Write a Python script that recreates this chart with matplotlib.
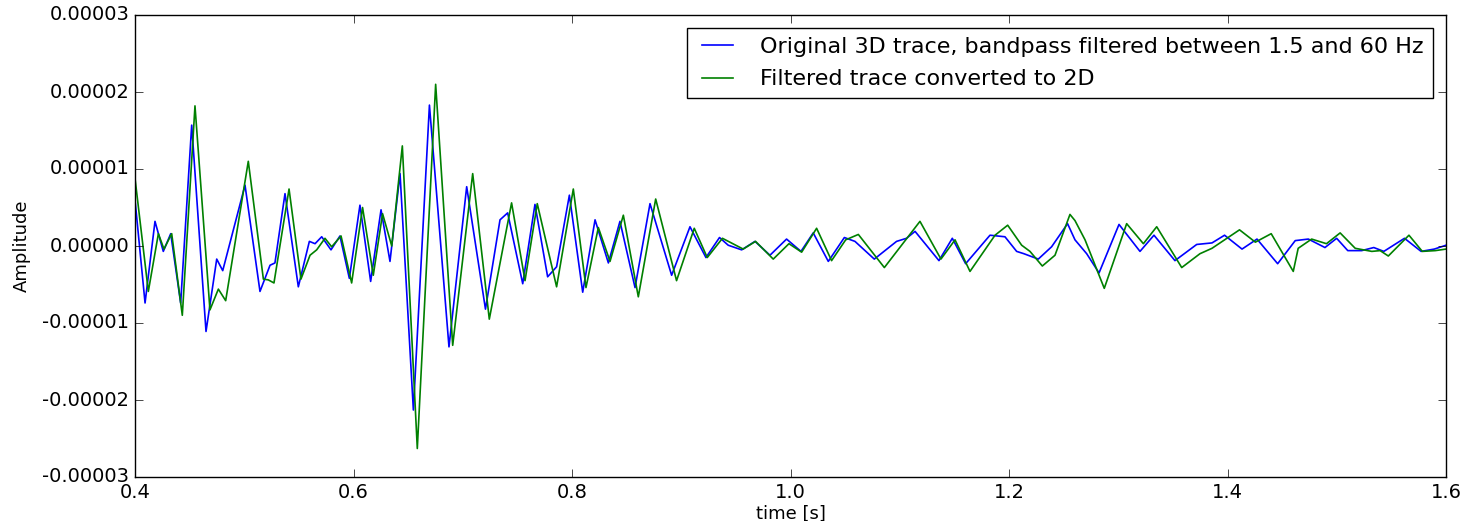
import matplotlib
matplotlib.use("Agg")
import matplotlib.pyplot as plt
from matplotlib.ticker import FormatStrFormatter

# Time samples (s) and amplitudes (in units of 1e-5)
t_orig = [0.4000, 0.4092, 0.4183, 0.4259, 0.4327, 0.4418, 0.4519, 0.4650, 0.4748, 0.4803,
          0.5007, 0.5144, 0.5236, 0.5281, 0.5373, 0.5495, 0.5596, 0.5648, 0.5709, 0.5794,
          0.5876, 0.5962, 0.6059, 0.6157, 0.6252, 0.6334, 0.6426, 0.6548, 0.6695, 0.6874,
          0.7036, 0.7208, 0.7341, 0.7411, 0.7549, 0.7661, 0.7777, 0.7859, 0.7976, 0.8098,
          0.8211, 0.8333, 0.8439, 0.8577, 0.8714, 0.8912, 0.9080, 0.9226, 0.9350, 0.9430,
          0.9553, 0.9675, 0.9812, 0.9964, 1.0096, 1.0208, 1.0346, 1.0493, 1.0590, 1.0767,
          1.0971, 1.1062, 1.1140, 1.1359, 1.1481, 1.1603, 1.1826, 1.1963, 1.2070, 1.2136,
          1.2268, 1.2390, 1.2536, 1.2604, 1.2711, 1.2824, 1.3007, 1.3199, 1.3327, 1.3519,
          1.3718, 1.3858, 1.3973, 1.4133, 1.4270, 1.4459, 1.4620, 1.4740, 1.4892, 1.4999,
          1.5101, 1.5228, 1.5339, 1.5431, 1.5620, 1.5772, 1.5893, 1.6000]
a_orig = [0.60, -0.74, 0.32, -0.07, 0.16, -0.74, 1.57, -1.11, -0.17, -0.32,
          0.79, -0.59, -0.25, -0.22, 0.68, -0.53, 0.06, 0.03, 0.12, -0.05,
          0.13, -0.42, 0.53, -0.46, 0.47, -0.20, 0.94, -2.13, 1.83, -1.31,
          0.77, -0.82, 0.34, 0.43, -0.49, 0.54, -0.40, -0.27, 0.66, -0.60,
          0.34, -0.22, 0.32, -0.54, 0.55, -0.38, 0.25, -0.15, 0.11, 0.01,
          -0.05, 0.06, -0.12, 0.09, -0.07, 0.17, -0.20, 0.11, 0.06, -0.17,
          0.06, 0.10, 0.19, -0.19, 0.10, -0.23, 0.14, 0.12, -0.07, -0.10,
          -0.17, -0.01, 0.29, 0.08, -0.10, -0.35, 0.28, -0.07, 0.14, -0.19,
          0.02, 0.04, 0.14, -0.04, 0.09, -0.23, 0.07, 0.09, -0.02, 0.10,
          -0.06, -0.06, -0.02, -0.07, 0.10, -0.07, -0.04, 0.01]

t_2d = [0.4000, 0.4122, 0.4214, 0.4265, 0.4336, 0.4433, 0.4549, 0.4686, 0.4763, 0.4830,
        0.5037, 0.5175, 0.5220, 0.5272, 0.5410, 0.5519, 0.5602, 0.5663, 0.5739, 0.5800,
        0.5886, 0.5983, 0.6083, 0.6181, 0.6266, 0.6350, 0.6447, 0.6584, 0.6752, 0.6908,
        0.7091, 0.7243, 0.7447, 0.7570, 0.7682, 0.7859, 0.8012, 0.8128, 0.8241, 0.8348,
        0.8470, 0.8607, 0.8766, 0.8957, 0.9119, 0.9238, 0.9377, 0.9567, 0.9680, 0.9842,
        0.9986, 1.0102, 1.0239, 1.0376, 1.0505, 1.0621, 1.0859, 1.1185, 1.1377, 1.1506,
        1.1643, 1.1872, 1.1988, 1.2116, 1.2192, 1.2305, 1.2421, 1.2558, 1.2604, 1.2696,
        1.2872, 1.3077, 1.3230, 1.3352, 1.3581, 1.3748, 1.3858, 1.4110, 1.4255, 1.4400,
        1.4602, 1.4647, 1.4770, 1.4906, 1.5031, 1.5169, 1.5321, 1.5397, 1.5472, 1.5661,
        1.5783, 1.5902, 1.6000]
a_2d = [0.88, -0.59, 0.16, -0.04, 0.16, -0.90, 1.82, -0.83, -0.56, -0.71,
        1.10, -0.43, -0.44, -0.48, 0.74, -0.43, -0.12, -0.05, 0.10, -0.01,
        0.13, -0.48, 0.50, -0.38, 0.42, 0.00, 1.30, -2.63, 2.10, -1.29,
        0.94, -0.95, 0.56, -0.45, 0.55, -0.53, 0.74, -0.54, 0.24, -0.20,
        0.40, -0.66, 0.61, -0.45, 0.23, -0.15, 0.10, -0.04, 0.06, -0.17,
        0.03, -0.08, 0.23, -0.19, 0.08, 0.15, -0.28, 0.32, -0.17, 0.08,
        -0.33, 0.14, 0.27, 0.01, -0.07, -0.26, -0.12, 0.41, 0.33, 0.08,
        -0.55, 0.29, 0.03, 0.25, -0.28, -0.10, -0.03, 0.21, 0.05, 0.16,
        -0.33, -0.03, 0.09, 0.03, 0.17, -0.03, -0.07, -0.06, -0.13, 0.14,
        -0.07, -0.06, -0.04]

SCALE = 1e-5
labels = ["Original 3D trace, bandpass filtered between 1.5 and 60 Hz",
          "Filtered trace converted to 2D"]
x_ticks = [0.4, 0.6, 0.8, 1.0, 1.2, 1.4, 1.6]
y_ticks = [-0.00003, -0.00002, -0.00001, 0.0, 0.00001, 0.00002, 0.00003]

plt.style.use("classic")
plt.rcParams["font.family"] = ["DejaVu Sans"]

fig = plt.figure(figsize=(14.64, 5.21), dpi=100, facecolor="white")
ax = fig.add_axes([135/1464, 1 - 477/521, (1446-135)/1464, (477-15)/521])

ax.plot(t_orig, [v * SCALE for v in a_orig], color="#0000ff", lw=1.2,
        solid_joinstyle="round", label=labels[0])
ax.plot(t_2d, [v * SCALE for v in a_2d], color="#008000", lw=1.2,
        solid_joinstyle="round", label=labels[1])

ax.set_xlim(0.4, 1.6)
ax.set_ylim(-0.00003, 0.00003)
ax.set_xticks(x_ticks)
ax.set_yticks(y_ticks)
ax.yaxis.set_major_formatter(FormatStrFormatter("%.5f"))
ax.xaxis.set_major_formatter(FormatStrFormatter("%.1f"))
ax.tick_params(labelsize=14, direction="in", top=True, right=True, length=6)
ax.set_xlabel("time [s]", fontsize=13, labelpad=2)
ax.set_ylabel("Amplitude", fontsize=13, labelpad=8)

leg = ax.legend(loc="upper right", fontsize=16, frameon=True, fancybox=False,
                numpoints=2, handlelength=2.0, handletextpad=0.9,
                labelspacing=0.55, borderaxespad=0.6)
leg.get_frame().set_edgecolor("black")
for line in leg.get_lines():
    line.set_linewidth(1.2)

fig.savefig("out.png", dpi=100, facecolor="white")
